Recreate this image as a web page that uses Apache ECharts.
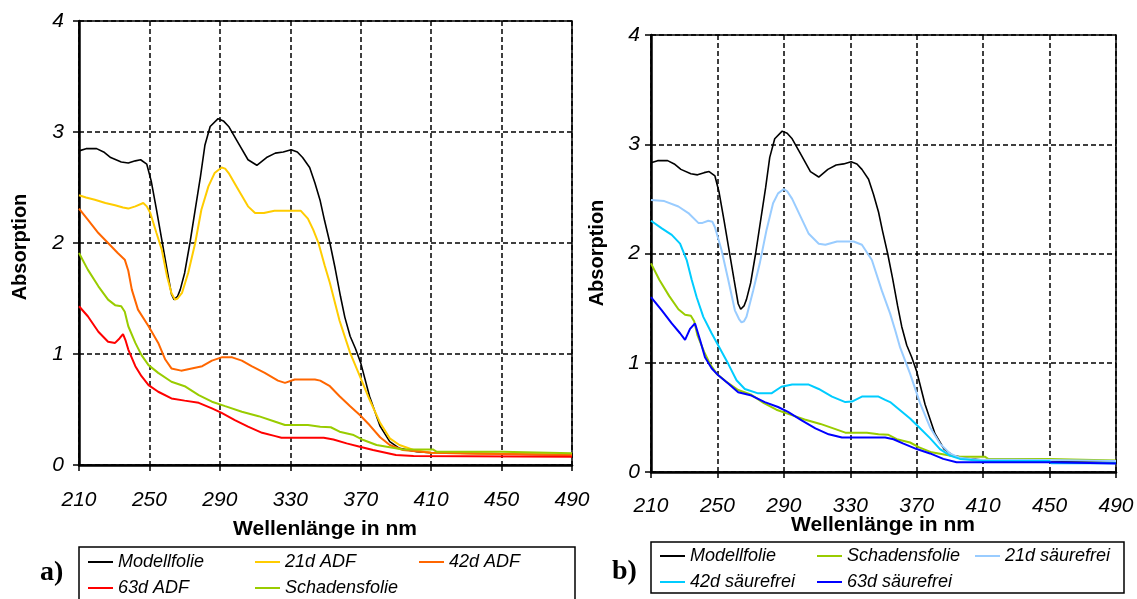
<!DOCTYPE html>
<html>
<head>
<meta charset="utf-8">
<script src="https://cdn.jsdelivr.net/npm/echarts@6/dist/echarts.min.js"></script>
<style>
  html, body { margin: 0; padding: 0; background: #fff; }
  #chart { width: 1137px; height: 599px; }
</style>
</head>
<body>
<div id="chart"></div>
<script>
// Axis ticks
const wavelengthTicks = [210, 250, 290, 330, 370, 410, 450, 490];
const absorptionTicks = [0, 1, 2, 3, 4];

// UV/Vis spectra: [wavelength in nm, absorption]
const modellfolie = [
  [210,2.83],[214,2.85],[220,2.85],[224,2.82],[228,2.77],[234,2.73],[238,2.72],[242,2.74],[245,2.75],
  [248.5,2.71],[251,2.56],[254,2.30],[257,2.03],[260,1.76],[262.5,1.54],[264,1.49],[266,1.52],[267.5,1.58],
  [270,1.73],[273,2.00],[276,2.30],[279,2.60],[281.5,2.88],[284.5,3.05],[289,3.12],[292,3.10],[295,3.05],
  [300.5,2.90],[306,2.75],[311,2.70],[316.5,2.77],[321.5,2.81],[326,2.82],[330.5,2.84],[334,2.82],[337,2.77],
  [341,2.68],[344,2.54],[347,2.38],[349.5,2.20],[352.5,2.00],[355.5,1.77],[358.5,1.52],[361,1.33],[364,1.16],
  [367,1.05],[370,0.92],[375,0.62],[381,0.35],[386.5,0.21],[392,0.15],[402,0.12],[410,0.11],[450,0.10],[490,0.09]
];
const adf21 = [
  [210,2.43],[214,2.41],[219,2.39],[225,2.36],[230.5,2.34],[235,2.32],[238,2.31],[242,2.33],[246.5,2.36],
  [248.5,2.33],[250.5,2.27],[254,2.09],[257,1.94],[260,1.70],[262.5,1.55],[264.5,1.49],[266,1.50],[268.5,1.55],
  [272,1.73],[276,2.00],[279.5,2.30],[283.5,2.51],[287,2.63],[291,2.68],[293,2.67],[295,2.63],[300.5,2.48],
  [306,2.33],[310,2.27],[315,2.27],[321,2.29],[330,2.29],[336,2.29],[340,2.22],[343,2.12],[346,2.00],
  [349.5,1.80],[352.5,1.64],[358,1.30],[364,1.01],[369.5,0.80],[375,0.59],[381,0.38],[386.5,0.24],[392,0.18],
  [400,0.135],[410,0.11],[450,0.10],[490,0.095]
];
const adf42 = [
  [210,2.31],[215,2.21],[221,2.09],[226.5,2.00],[232,1.91],[236,1.85],[238,1.75],[240,1.58],[243.5,1.40],
  [249.5,1.25],[255,1.10],[259,0.95],[262.5,0.87],[268,0.85],[274,0.87],[280,0.89],[285.5,0.94],[291,0.97],
  [297,0.97],[302.5,0.94],[308,0.89],[315.5,0.83],[323,0.76],[327,0.74],[332.5,0.77],[344,0.77],[347,0.76],
  [352.5,0.71],[358,0.62],[364,0.53],[369.5,0.45],[375,0.36],[381,0.25],[386.5,0.18],[394,0.135],[410,0.11],
  [450,0.10],[490,0.09]
];
const adf63 = [
  [210,1.43],[215,1.34],[221,1.20],[226.5,1.11],[230.5,1.10],[233,1.14],[235,1.18],[236.5,1.12],[238,1.04],
  [242,0.89],[245.5,0.80],[249.5,0.72],[255,0.66],[262.5,0.60],[270,0.58],[278,0.56],[285.5,0.51],[291,0.47],
  [298.5,0.405],[306,0.345],[314,0.29],[321.5,0.26],[325,0.245],[349,0.245],[354.5,0.23],[362,0.195],
  [369.5,0.165],[377,0.135],[390,0.09],[400,0.08],[490,0.075]
];
const schadensfolie = [
  [210,1.91],[215,1.76],[221,1.61],[226.5,1.49],[230.5,1.44],[234,1.43],[236,1.38],[238,1.25],[242,1.10],
  [245.5,0.99],[249.5,0.90],[255,0.83],[262.5,0.75],[270,0.71],[278,0.63],[285.5,0.57],[293,0.53],[302.5,0.48],
  [312,0.44],[321.5,0.39],[327,0.36],[340,0.36],[347,0.345],[353,0.34],[358,0.30],[366,0.27],[371.5,0.225],
  [379,0.18],[386.5,0.16],[394,0.14],[411,0.14],[413,0.12],[450,0.12],[451,0.105],[490,0.105]
];
const saeurefrei21 = [
  [210,2.49],[218,2.48],[226.5,2.43],[232.5,2.37],[238.5,2.28],[241,2.28],[244.5,2.30],[247,2.29],[248.5,2.24],
  [252.5,2.03],[256.5,1.76],[260.5,1.48],[263,1.40],[264.5,1.37],[266,1.38],[267.5,1.42],[271.5,1.66],
  [275.5,1.91],[279.5,2.21],[283.5,2.46],[286.5,2.55],[290,2.59],[292,2.57],[295,2.50],[300,2.34],[305,2.18],
  [311,2.09],[315,2.08],[322,2.11],[332,2.11],[337,2.08],[343,1.94],[349,1.66],[354,1.45],[357,1.30],
  [360,1.14],[366,0.90],[372,0.63],[378,0.41],[384,0.26],[390,0.17],[396,0.13],[405,0.115],[450,0.11],[490,0.10]
];
const saeurefrei42 = [
  [210,2.30],[216.5,2.23],[222.5,2.17],[227.5,2.09],[231.5,1.94],[234.5,1.76],[237.5,1.60],[241.5,1.42],
  [246.5,1.27],[251.5,1.13],[256.5,0.99],[261.5,0.84],[266.5,0.76],[274.5,0.72],[282.5,0.72],[288.5,0.78],
  [295,0.80],[305,0.80],[311,0.76],[319,0.69],[327,0.64],[331,0.645],[337,0.69],[347,0.69],[351,0.66],
  [354,0.64],[360,0.565],[366,0.49],[372,0.40],[378,0.31],[384,0.21],[390,0.15],[396,0.12],[410,0.10],
  [450,0.10],[451,0.08],[490,0.08]
];
const saeurefrei63 = [
  [210,1.60],[216.5,1.48],[222.5,1.36],[227.5,1.27],[230.5,1.21],[233.5,1.31],[236.5,1.36],[239.5,1.21],
  [242.5,1.05],[246.5,0.95],[250.5,0.885],[256.5,0.81],[262.5,0.73],[270.5,0.70],[278.5,0.64],[286.5,0.595],
  [292.5,0.55],[301,0.47],[309,0.40],[317,0.345],[325,0.315],[351,0.315],[356,0.30],[362,0.26],[370,0.21],
  [378,0.17],[386,0.12],[394,0.09],[450,0.09],[451,0.077],[490,0.077]
];

const FONT = 'Liberation Sans, Arial, sans-serif';
const SERIF = 'Liberation Serif, Times New Roman, serif';

function makeXAxis(gridIndex, labelMargin) {
  return {
    type: 'value', gridIndex: gridIndex,
    min: wavelengthTicks[0], max: wavelengthTicks[wavelengthTicks.length - 1],
    interval: wavelengthTicks[1] - wavelengthTicks[0],
    axisLine: { show: true, onZero: false, lineStyle: { color: '#000', width: 2.5 } },
    axisTick: { show: true, length: 6, lineStyle: { color: '#000', width: 1.5 } },
    axisLabel: { margin: labelMargin, fontFamily: FONT, fontStyle: 'italic', fontSize: 21, color: '#000' },
    splitLine: { show: true, lineStyle: { color: '#000', width: 1.5, type: [5, 3] } }
  };
}
function makeYAxis(gridIndex, labelMargin) {
  return {
    type: 'value', gridIndex: gridIndex,
    min: absorptionTicks[0], max: absorptionTicks[absorptionTicks.length - 1],
    interval: absorptionTicks[1] - absorptionTicks[0],
    axisLine: { show: true, lineStyle: { color: '#000', width: 2.5 } },
    axisTick: { show: true, length: 6, lineStyle: { color: '#000', width: 1.5 } },
    axisLabel: { margin: labelMargin, fontFamily: FONT, fontStyle: 'italic', fontSize: 21, color: '#000' },
    splitLine: { show: true, lineStyle: { color: '#000', width: 1.5, type: [5, 3] } }
  };
}
function spectrum(name, data, color, width, gridIndex) {
  return {
    type: 'line', name: name, data: data,
    xAxisIndex: gridIndex, yAxisIndex: gridIndex,
    symbol: 'none', smooth: false, animation: false,
    lineStyle: { color: color, width: width },
    itemStyle: { color: color }
  };
}
function legendItem(name, left, centerY) {
  return {
    data: [name], left: left, top: centerY - 10, padding: 0,
    icon: 'rect', itemWidth: 25, itemHeight: 2,
    textStyle: { fontFamily: FONT, fontStyle: 'italic', fontSize: 18, color: '#000', lineHeight: 20 }
  };
}

const COLORS = {
  modell: '#000000', adf21: '#FFCC00', adf42: '#FF6600', adf63: '#FF0000',
  schaden: '#99CC00', s21: '#99CCFF', s42: '#00CCFF', s63: '#0000FF'
};

const option = {
  backgroundColor: '#fff',
  animation: false,
  grid: [
    { left: 79, top: 21, width: 493, height: 444, show: true, borderColor: '#000', borderWidth: 1.5, containLabel: false },
    { left: 651, top: 35, width: 465, height: 437, show: true, borderColor: '#000', borderWidth: 1.5, containLabel: false }
  ],
  xAxis: [makeXAxis(0, 25), makeXAxis(1, 24)],
  yAxis: [makeYAxis(0, 15), makeYAxis(1, 11)],
  legend: [
    legendItem('Modellfolie', 88, 562),
    legendItem('21d ADF', 255, 562),
    legendItem('42d ADF', 419, 562),
    legendItem('63d ADF', 88, 588),
    legendItem('Schadensfolie', 255, 588),
    legendItem('Modellfolie', 660, 556),
    legendItem('Schadensfolie', 817, 556),
    legendItem('21d säurefrei', 975, 556),
    legendItem('42d säurefrei', 660, 582),
    legendItem('63d säurefrei', 817, 582)
  ],
  series: [
    spectrum('Modellfolie', modellfolie, COLORS.modell, 1.6, 0),
    spectrum('21d ADF', adf21, COLORS.adf21, 2, 0),
    spectrum('42d ADF', adf42, COLORS.adf42, 2, 0),
    spectrum('63d ADF', adf63, COLORS.adf63, 2, 0),
    spectrum('Schadensfolie', schadensfolie, COLORS.schaden, 2, 0),

    spectrum('Modellfolie', modellfolie, COLORS.modell, 1.6, 1),
    spectrum('Schadensfolie', schadensfolie, COLORS.schaden, 2, 1),
    spectrum('21d säurefrei', saeurefrei21, COLORS.s21, 2, 1),
    spectrum('42d säurefrei', saeurefrei42, COLORS.s42, 2, 1),
    spectrum('63d säurefrei', saeurefrei63, COLORS.s63, 2, 1)
  ],
  graphic: [
    // axis titles
    { type: 'text', x: 20, y: 247, rotation: Math.PI / 2,
      style: { text: 'Absorption', font: 'bold 20px ' + FONT, fill: '#000', align: 'center', verticalAlign: 'middle' } },
    { type: 'text', x: 325, y: 529,
      style: { text: 'Wellenlänge in nm', font: 'bold 21px ' + FONT, fill: '#000', align: 'center', verticalAlign: 'middle' } },
    { type: 'text', x: 597, y: 253, rotation: Math.PI / 2,
      style: { text: 'Absorption', font: 'bold 20px ' + FONT, fill: '#000', align: 'center', verticalAlign: 'middle' } },
    { type: 'text', x: 883, y: 525,
      style: { text: 'Wellenlänge in nm', font: 'bold 21px ' + FONT, fill: '#000', align: 'center', verticalAlign: 'middle' } },
    // legend frames
    { type: 'rect', shape: { x: 79, y: 547, width: 496, height: 60 }, z: -1,
      style: { fill: 'none', stroke: '#000', lineWidth: 1.5 } },
    { type: 'rect', shape: { x: 651, y: 542, width: 473, height: 51 }, z: -1,
      style: { fill: 'none', stroke: '#000', lineWidth: 1.5 } },
    // panel letters
    { type: 'text', x: 40, y: 573,
      style: { text: 'a)', font: 'bold 28px ' + SERIF, fill: '#000', align: 'left', verticalAlign: 'middle' } },
    { type: 'text', x: 612, y: 572,
      style: { text: 'b)', font: 'bold 28px ' + SERIF, fill: '#000', align: 'left', verticalAlign: 'middle' } }
  ]
};

const chart = echarts.init(document.getElementById('chart'), null, { renderer: 'canvas' });
chart.setOption(option);
</script>
</body>
</html>
